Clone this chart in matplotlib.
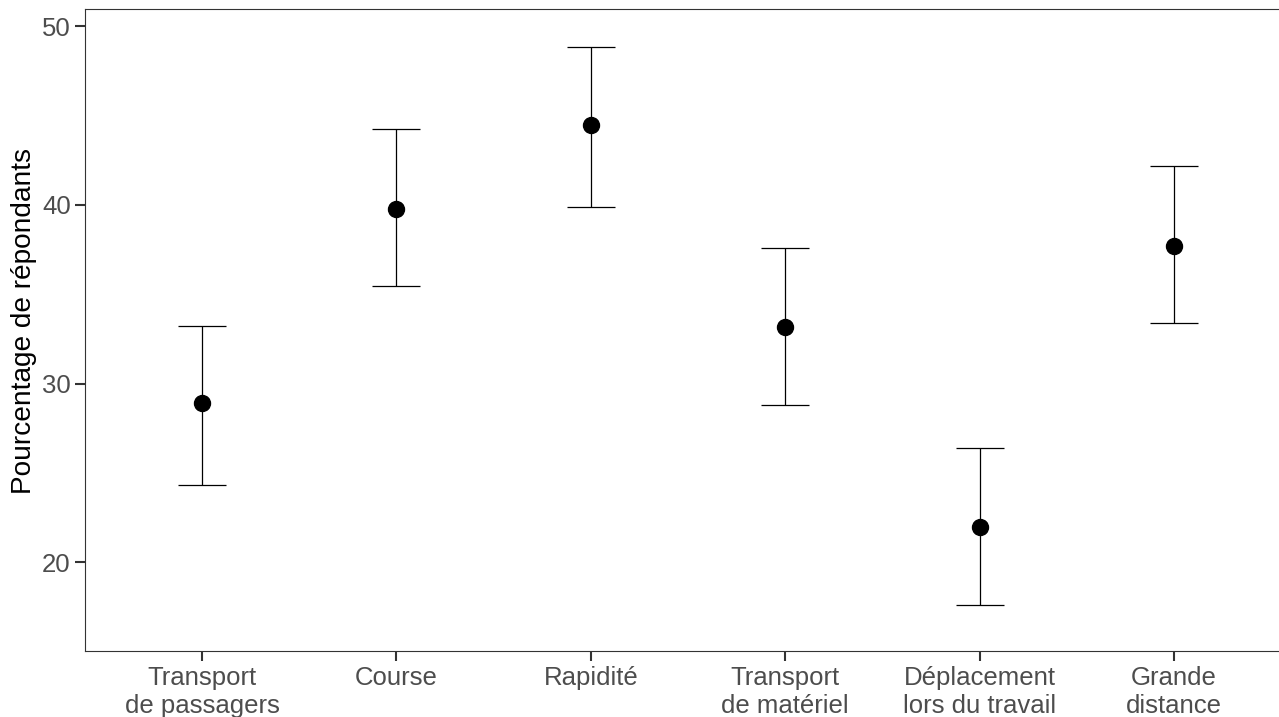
import numpy as np
import matplotlib
matplotlib.use("Agg")
from matplotlib import pyplot as plt

plt.rcParams['font.family'] = ['Liberation Sans', 'DejaVu Sans']

# usages et pourcentages avec intervalles
categories = ["Transport\nde passagers", "Course", "Rapidité",
              "Transport\nde matériel", "Déplacement\nlors du travail",
              "Grande\ndistance"]
pourcentage = [28.9, 39.77, 44.44, 33.18, 21.98, 37.7]
borne_inf = [24.35, 35.45, 39.87, 28.8, 17.62, 33.39]
borne_sup = [33.23, 44.24, 48.8, 37.6, 26.39, 42.18]

x = np.arange(1, len(categories) + 1)
y = np.array(pourcentage)
err = [y - np.array(borne_inf), np.array(borne_sup) - y]

fig = plt.figure(figsize=(12.79, 7.17), dpi=100)
ax = fig.add_axes([0.0668, 0.092, 0.9423, 0.8954])

ax.errorbar(x, y, yerr=err, fmt='none', ecolor='black', elinewidth=0.9,
            capsize=17.5, capthick=0.9)
ax.plot(x, y, 'o', color='black', markersize=11.5, zorder=3)

ax.set_xlim(0.4, 6.6)
ax.set_ylim(15.04, 50.95)
ax.set_yticks([20, 30, 40, 50])
ax.set_xticks(x)
ax.set_xticklabels(categories, linespacing=1.22)

for s in ax.spines.values():
    s.set_color('#333333')
    s.set_linewidth(0.8)
ax.spines['right'].set_visible(False)

ax.tick_params(axis='both', colors='#333333', width=1.5, length=7.5,
               labelsize=18.5, labelcolor='#4D4D4D')
ax.tick_params(axis='y', pad=3)
ax.tick_params(axis='x', pad=3)

ax.set_ylabel("Pourcentage de répondants", fontsize=20.2, color='black',
              va='center')
ax.yaxis.set_label_coords(-0.051, 0.514)

fig.savefig("out.png", dpi=100)
